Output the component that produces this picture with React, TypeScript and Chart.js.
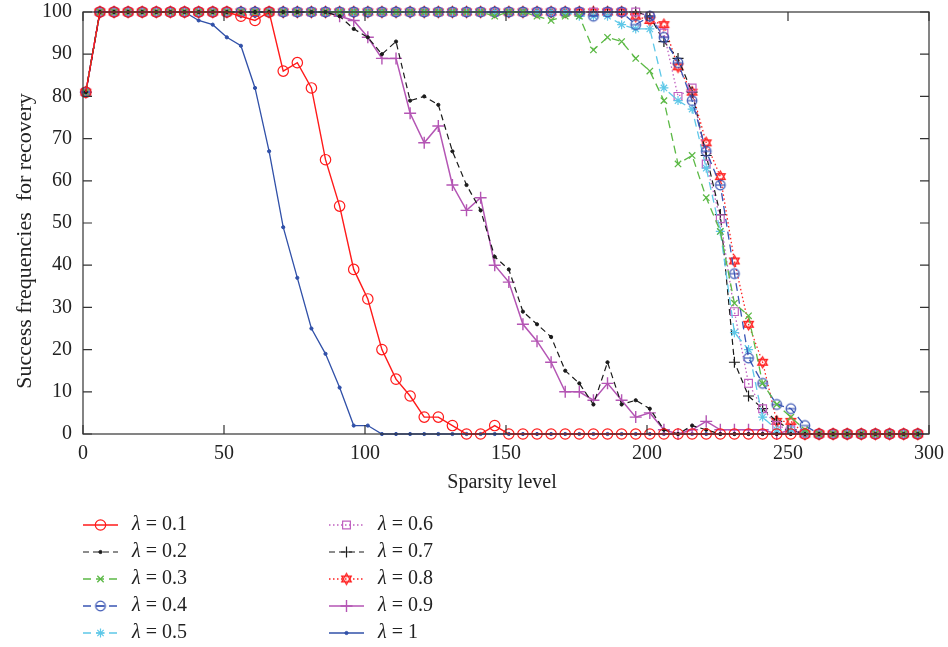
import React, { useEffect, useRef } from 'react';
import { Chart, registerables } from 'chart.js';
import { drawPoint } from 'chart.js/helpers';

Chart.register(...registerables);

const sparsity = [1, 6, 11, 16, 21, 26, 31, 36, 41, 46, 51, 56, 61, 66, 71, 76, 81, 86, 91, 96,
  101, 106, 111, 116, 121, 126, 131, 136, 141, 146, 151, 156, 161, 166, 171, 176, 181, 186, 191, 196,
  201, 206, 211, 216, 221, 226, 231, 236, 241, 246, 251, 256, 261, 266, 271, 276, 281, 286, 291, 296];

const lambdaLabels = ['0.1', '0.2', '0.3', '0.4', '0.5', '0.6', '0.7', '0.8', '0.9', '1'];

const lam01 = [81, 100, 100, 100, 100, 100, 100, 100, 100, 100, 100, 99, 98, 100, 86, 88, 82, 65, 54, 39,
  32, 20, 13, 9, 4, 4, 2, 0, 0, 2, 0, 0, 0, 0, 0, 0, 0, 0, 0, 0,
  0, 0, 0, 0, 0, 0, 0, 0, 0, 0, 0, 0, 0, 0, 0, 0, 0, 0, 0, 0];
const lam02 = [81, 100, 100, 100, 100, 100, 100, 100, 100, 100, 100, 100, 100, 100, 100, 100, 100, 100, 99, 96,
  94, 90, 93, 79, 80, 78, 67, 59, 53, 42, 39, 29, 26, 23, 15, 12, 7, 17, 7, 8,
  6, 1, 0, 2, 1, 0, 0, 0, 0, 0, 0, 0, 0, 0, 0, 0, 0, 0, 0, 0];
const lam03 = [81, 100, 100, 100, 100, 100, 100, 100, 100, 100, 100, 100, 100, 100, 100, 100, 100, 100, 100, 100,
  100, 100, 100, 100, 100, 100, 100, 100, 100, 99, 100, 100, 99, 98, 99, 99, 91, 94, 93, 89,
  86, 79, 64, 66, 56, 48, 31, 28, 12, 7, 4, 1, 0, 0, 0, 0, 0, 0, 0, 0];
const lam04 = [81, 100, 100, 100, 100, 100, 100, 100, 100, 100, 100, 100, 100, 100, 100, 100, 100, 100, 100, 100,
  100, 100, 100, 100, 100, 100, 100, 100, 100, 100, 100, 100, 100, 100, 100, 100, 99, 100, 100, 97,
  99, 94, 88, 79, 67, 59, 38, 18, 12, 7, 6, 2, 0, 0, 0, 0, 0, 0, 0, 0];
const lam05 = [81, 100, 100, 100, 100, 100, 100, 100, 100, 100, 100, 100, 100, 100, 100, 100, 100, 100, 100, 100,
  100, 100, 100, 100, 100, 100, 100, 100, 100, 100, 100, 100, 100, 100, 100, 99, 99, 99, 97, 96,
  96, 82, 79, 77, 63, 48, 24, 20, 4, 1, 1, 0, 0, 0, 0, 0, 0, 0, 0, 0];
const lam06 = [81, 100, 100, 100, 100, 100, 100, 100, 100, 100, 100, 100, 100, 100, 100, 100, 100, 100, 100, 100,
  100, 100, 100, 100, 100, 100, 100, 100, 100, 100, 100, 100, 100, 100, 100, 100, 100, 100, 100, 100,
  99, 95, 80, 82, 64, 51, 29, 12, 6, 2, 1, 0, 0, 0, 0, 0, 0, 0, 0, 0];
const lam07 = [81, 100, 100, 100, 100, 100, 100, 100, 100, 100, 100, 100, 100, 100, 100, 100, 100, 100, 100, 100,
  100, 100, 100, 100, 100, 100, 100, 100, 100, 100, 100, 100, 100, 100, 100, 100, 100, 100, 100, 100,
  99, 93, 89, 81, 66, 52, 17, 9, 6, 3, 1, 0, 0, 0, 0, 0, 0, 0, 0, 0];
const lam08 = [81, 100, 100, 100, 100, 100, 100, 100, 100, 100, 100, 100, 100, 100, 100, 100, 100, 100, 100, 100,
  100, 100, 100, 100, 100, 100, 100, 100, 100, 100, 100, 100, 100, 100, 100, 100, 100, 100, 100, 99,
  98, 97, 87, 81, 69, 61, 41, 26, 17, 3, 3, 0, 0, 0, 0, 0, 0, 0, 0, 0];
const lam09 = [81, 100, 100, 100, 100, 100, 100, 100, 100, 100, 100, 100, 100, 100, 100, 100, 100, 100, 99, 98,
  94, 89, 89, 76, 69, 73, 59, 53, 56, 40, 36, 26, 22, 17, 10, 10, 8, 12, 8, 4,
  5, 1, 0, 1, 3, 1, 1, 1, 1, 0, 1, 0, 0, 0, 0, 0, 0, 0, 0, 0];
const lam10 = [81, 100, 100, 100, 100, 100, 100, 100, 98, 97, 94, 92, 82, 67, 49, 37, 25, 19, 11, 2,
  2, 0, 0, 0, 0, 0, 0, 0, 0, 0, 0, 0, 0, 0, 0, 0, 0, 0, 0, 0,
  0, 0, 0, 0, 0, 0, 0, 0, 0, 0, 0, 0, 0, 0, 0, 0, 0, 0, 0, 0];

const xTicks = [0, 50, 100, 150, 200, 250, 300];
const yTicks = [0, 10, 20, 30, 40, 50, 60, 70, 80, 90, 100];
const xTitle = 'Sparsity level';
const yTitle = 'Success frequencies  for recovery';

const FONT = '"Liberation Serif", "DejaVu Serif", serif';

function makeHexagram(color: string, r: number) {
  const size = Math.ceil(2 * r + 4);
  const c = document.createElement('canvas');
  c.width = size; c.height = size;
  const g = c.getContext('2d')!;
  g.strokeStyle = color; g.lineWidth = 1.3;
  const cx = size / 2, cy = size / 2;
  for (const rot of [-Math.PI / 2, Math.PI / 2]) {
    g.beginPath();
    for (let i = 0; i < 3; i++) {
      const a = rot + (i * 2 * Math.PI) / 3;
      const px = cx + r * Math.cos(a), py = cy + r * Math.sin(a);
      if (i === 0) g.moveTo(px, py); else g.lineTo(px, py);
    }
    g.closePath();
    g.stroke();
  }
  return c;
}

function makeCircleMinus(color: string, r: number) {
  const size = Math.ceil(2 * r + 4);
  const c = document.createElement('canvas');
  c.width = size; c.height = size;
  const g = c.getContext('2d')!;
  g.strokeStyle = color; g.lineWidth = 1.2;
  const cx = size / 2, cy = size / 2;
  g.beginPath(); g.arc(cx, cy, r, 0, Math.PI * 2); g.stroke();
  g.beginPath(); g.moveTo(cx - r, cy); g.lineTo(cx + r, cy); g.stroke();
  return c;
}

export default function App() {
  const ref = useRef<HTMLCanvasElement>(null);
  useEffect(() => {
    const hex = makeHexagram('#ff2020', 5.5);
    const cmin = makeCircleMinus('#3a55b4', 4.8);
    const series = [lam01, lam02, lam03, lam04, lam05, lam06, lam07, lam08, lam09, lam10];
    const styles: any[] = [
      { color: '#ff1a1a', dash: [], ps: 'circle', r: 5.2, bw: 1.2, w: 1.4 },
      { color: '#1a1a1a', dash: [6, 4], ps: 'circle', r: 1.6, bw: 1, w: 1.2, fill: true },
      { color: '#5cb946', dash: [8, 5], ps: 'crossRot', r: 4.5, bw: 1.3, w: 1.3 },
      { color: '#3a55b4', dash: [8, 5], ps: cmin, r: 5, bw: 1, w: 1.3 },
      { color: '#5ec8e8', dash: [8, 5], ps: 'star', r: 4.5, bw: 1.2, w: 1.3 },
      { color: '#c060c0', dash: [1.5, 2.5], ps: 'rect', r: 5.5, bw: 1.2, w: 1.3 },
      { color: '#1a1a1a', dash: [6, 4], ps: 'cross', r: 5.5, bw: 1.2, w: 1.2 },
      { color: '#ff2020', dash: [1.5, 2.5], ps: hex, r: 5.5, bw: 1, w: 1.3 },
      { color: '#b455b4', dash: [], ps: 'cross', r: 6, bw: 1.4, w: 1.5 },
      { color: '#3050a8', dash: [], ps: 'circle', r: 1.6, bw: 1, w: 1.3, fill: true },
    ];
    const datasets = series.map((d, i) => ({
      label: 'λ = ' + lambdaLabels[i],
      data: d.map((v, j) => ({ x: sparsity[j], y: v })),
      borderColor: styles[i].color,
      backgroundColor: styles[i].fill ? styles[i].color : 'rgba(0,0,0,0)',
      borderWidth: styles[i].w,
      borderDash: styles[i].dash,
      pointStyle: styles[i].ps,
      pointRadius: styles[i].r,
      pointBorderWidth: styles[i].bw,
      pointBorderColor: styles[i].color,
      pointBackgroundColor: styles[i].fill ? styles[i].color : 'rgba(0,0,0,0)',
      tension: 0,
      clip: false as any,
    }));

    const decor = {
      id: 'decor',
      afterDraw(chart: any) {
        const ctx = chart.ctx as CanvasRenderingContext2D;
        const a = chart.chartArea;
        const xs = chart.scales.x, ys = chart.scales.y;
        ctx.save();
        ctx.strokeStyle = '#333';
        ctx.lineWidth = 1.2;
        ctx.setLineDash([]);
        ctx.strokeRect(a.left, a.top, a.right - a.left, a.bottom - a.top);
        const tl = 9;
        ctx.beginPath();
        xTicks.forEach((v) => {
          const p = xs.getPixelForValue(v);
          ctx.moveTo(p, a.bottom); ctx.lineTo(p, a.bottom - tl);
          ctx.moveTo(p, a.top); ctx.lineTo(p, a.top + tl);
        });
        yTicks.forEach((v) => {
          const p = ys.getPixelForValue(v);
          ctx.moveTo(a.left, p); ctx.lineTo(a.left + tl, p);
          ctx.moveTo(a.right, p); ctx.lineTo(a.right - tl, p);
        });
        ctx.stroke();

        ctx.fillStyle = '#222';
        ctx.font = `20px ${FONT}`;
        ctx.textAlign = 'center';
        ctx.textBaseline = 'middle';
        ctx.fillText(xTitle, 502, 483);
        ctx.save();
        ctx.translate(25, 241);
        ctx.rotate(-Math.PI / 2);
        ctx.font = `22px ${FONT}`;
        ctx.fillText(yTitle, 0, 0);
        ctx.restore();

        // legend
        chart.data.datasets.forEach((ds: any, i: number) => {
          const col = i < 5 ? 0 : 1;
          const row = i % 5;
          const x0 = col === 0 ? 83 : 329;
          const y = 525 + row * 27;
          const st = styles[i];
          ctx.save();
          ctx.strokeStyle = st.color;
          ctx.lineWidth = st.w;
          ctx.setLineDash(st.dash);
          ctx.beginPath();
          ctx.moveTo(x0, y); ctx.lineTo(x0 + 35, y);
          ctx.stroke();
          ctx.setLineDash([]);
          ctx.fillStyle = st.fill ? st.color : 'rgba(0,0,0,0)';
          ctx.strokeStyle = st.color;
          ctx.lineWidth = st.bw;
          drawPoint(ctx, { pointStyle: st.ps, radius: st.r, rotation: 0, borderWidth: st.bw } as any, x0 + 17.5, y);
          ctx.restore();
          ctx.fillStyle = '#222';
          ctx.textAlign = 'left';
          ctx.textBaseline = 'middle';
          const tx = x0 + 49;
          ctx.font = `italic 20px ${FONT}`;
          ctx.fillText('λ', tx, y);
          const w = ctx.measureText('λ').width;
          ctx.font = `20px ${FONT}`;
          ctx.fillText(' = ' + lambdaLabels[i], tx + w, y);
        });
        ctx.restore();
      },
    };

    const chart = new Chart(ref.current!, {
      type: 'line',
      data: { datasets },
      options: {
        animation: false,
        responsive: false,
        events: [],
        layout: { padding: { top: 12, right: 19, left: 0, bottom: 0 } },
        plugins: { legend: { display: false }, tooltip: { enabled: false } },
        scales: {
          x: {
            type: 'linear', min: 0, max: 300,
            afterFit: (s: any) => { s.height = 213; s.paddingRight = 0; s.paddingLeft = 0; },
            afterBuildTicks: (s: any) => { s.ticks = xTicks.map((v) => ({ value: v })); },
            grid: { display: false, drawTicks: false },
            border: { display: false },
            ticks: { autoSkip: false, padding: 8, color: '#222', font: { family: FONT, size: 20 }, maxRotation: 0 },
          },
          y: {
            type: 'linear', min: 0, max: 100,
            afterFit: (s: any) => { s.width = 83; s.paddingTop = 0; s.paddingBottom = 0; },
            afterBuildTicks: (s: any) => { s.ticks = yTicks.map((v) => ({ value: v })); },
            grid: { display: false, drawTicks: false },
            border: { display: false },
            ticks: { autoSkip: false, padding: 11, color: '#222', font: { family: FONT, size: 20 } },
          },
        },
      },
      plugins: [decor],
    });
    return () => chart.destroy();
  }, []);
  return (
    <div style={{ position: 'absolute', left: 0, top: 0, width: 948, height: 647, background: '#fff' }}>
      <canvas ref={ref} width={948} height={647} style={{ display: 'block' }} />
    </div>
  );
}
